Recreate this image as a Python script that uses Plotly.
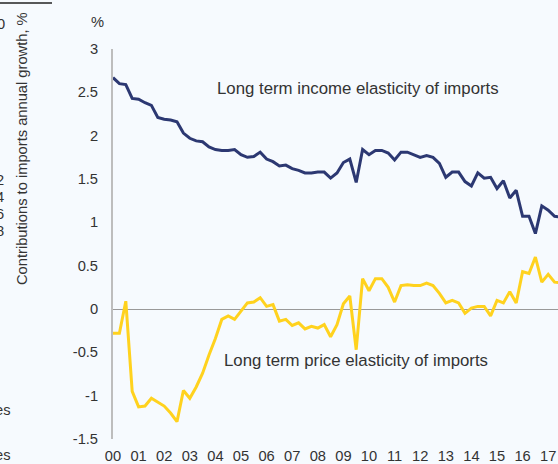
import plotly.graph_objects as go

# Quarterly observations, 2000Q1 onward (index = quarters since 2000Q1)
income_elasticity = [
    2.67, 2.60, 2.59, 2.43, 2.42, 2.38, 2.35, 2.21, 2.19, 2.18,
    2.16, 2.03, 1.97, 1.94, 1.93, 1.87, 1.84, 1.83, 1.83, 1.84,
    1.78, 1.75, 1.76, 1.81, 1.73, 1.70, 1.65, 1.66, 1.62, 1.60,
    1.57, 1.57, 1.58, 1.58, 1.51, 1.57, 1.69, 1.73, 1.46, 1.84,
    1.78, 1.83, 1.83, 1.80, 1.72, 1.81, 1.81, 1.78, 1.75, 1.77,
    1.75, 1.68, 1.52, 1.58, 1.58, 1.47, 1.42, 1.57, 1.51, 1.52,
    1.39, 1.48, 1.28, 1.37, 1.07, 1.07, 0.87, 1.19, 1.14, 1.07,
    1.06,
]
price_elasticity = [
    -0.28, -0.28, 0.09, -0.95, -1.13, -1.12, -1.03, -1.08, -1.12, -1.20,
    -1.30, -0.94, -1.03, -0.90, -0.74, -0.53, -0.34, -0.12, -0.08, -0.12,
    -0.03, 0.07, 0.08, 0.13, 0.03, 0.05, -0.14, -0.12, -0.19, -0.16,
    -0.23, -0.20, -0.22, -0.18, -0.32, -0.18, 0.06, 0.15, -0.47, 0.35,
    0.21, 0.35, 0.35, 0.25, 0.08, 0.27, 0.28, 0.27, 0.27, 0.30,
    0.27, 0.18, 0.07, 0.10, 0.07, -0.05, 0.01, 0.03, 0.03, -0.08,
    0.10, 0.07, 0.20, 0.07, 0.43, 0.41, 0.60, 0.31, 0.40, 0.31,
    0.30,
]
year_labels = ["00", "01", "02", "03", "04", "05", "06", "07", "08",
               "09", "10", "11", "12", "13", "14", "15", "16", "17"]
y_ticks = [-1.5, -1, -0.5, 0, 0.5, 1, 1.5, 2, 2.5, 3]

quarters = list(range(len(income_elasticity)))
year_starts = [4 * k for k in range(len(year_labels))]

W, H = 558, 464
M_L, M_R, M_T, M_B = 113, 0, 49, 25
PW, PH = W - M_L - M_R, H - M_T - M_B
Q_PX = 6.4  # pixels per quarter

FONT = "Arial, Liberation Sans, sans-serif"
TXT = "#333333"
BG = "#F6FAFE"


def px(x, y):
    """Pixel position -> paper coordinates."""
    return (x - M_L) / PW, 1 - (y - M_T) / PH


fig = go.Figure()
fig.add_trace(go.Scatter(
    x=quarters, y=income_elasticity, mode="lines",
    line=dict(color="#2C3872", width=3), name="income",
))
fig.add_trace(go.Scatter(
    x=quarters, y=price_elasticity, mode="lines",
    line=dict(color="#FFD21E", width=3), name="price",
))

annotations = []


def label(text, x, y, size=14.7, xanchor="left", angle=0, yanchor="middle"):
    ax, ay = px(x, y)
    annotations.append(dict(
        text=text, x=ax, y=ay, xref="paper", yref="paper",
        xanchor=xanchor, yanchor=yanchor, showarrow=False, textangle=angle,
        font=dict(family=FONT, size=size, color=TXT),
    ))


label("Long term income elasticity of imports", 215, 88, size=16.8)
label("Long term price elasticity of imports", 222, 360, size=16.8)
label("%", 97, 22, xanchor="center")

# Neighbouring panel on the left
label("Contributions to imports annual growth, %", 22, 149, angle=-90,
      xanchor="center")
label("0", 7, 24, xanchor="right")
for t, yy in zip(["2", "4", "6", "8"], [180, 197, 214, 231]):
    label(t, 6, yy, xanchor="right")
label("es", 13, 410, xanchor="right")
label("es", 13, 455, xanchor="right")

shapes = [dict(
    type="line", xref="paper", yref="paper",
    x0=px(0, 3)[0], x1=px(52, 3)[0], y0=px(0, 3)[1], y1=px(0, 3)[1],
    line=dict(color="#222222", width=1.5),
)]

fig.update_layout(
    width=W, height=H,
    margin=dict(l=M_L, r=M_R, t=M_T, b=M_B, pad=0, autoexpand=False),
    paper_bgcolor=BG, plot_bgcolor=BG,
    showlegend=False,
    font=dict(family=FONT, size=14.7, color=TXT),
    annotations=annotations, shapes=shapes,
    xaxis=dict(
        range=[0, PW / Q_PX], automargin=False,
        tickmode="array", tickvals=year_starts, ticktext=year_labels,
        showgrid=False, zeroline=False, showline=False,
        ticks="outside", ticklen=3, tickcolor="rgba(0,0,0,0)",
        tickfont=dict(family=FONT, size=14.7, color=TXT),
    ),
    yaxis=dict(
        range=[-1.5, 3], automargin=False,
        tickmode="array", tickvals=y_ticks,
        ticktext=[f"{v:g}" for v in y_ticks],
        showgrid=False,
        zeroline=True, zerolinecolor="#999999", zerolinewidth=1,
        showline=True, linecolor="#BDBDBD", linewidth=2,
        ticks="outside", ticklen=10, tickcolor="rgba(0,0,0,0)",
        tickfont=dict(family=FONT, size=14.7, color=TXT),
    ),
)

fig.write_html("out.html")
